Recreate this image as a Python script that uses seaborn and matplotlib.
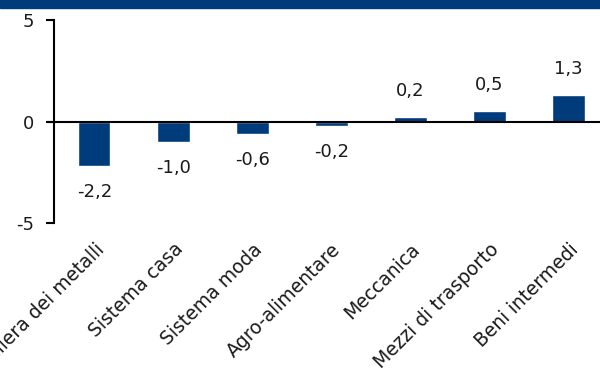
import seaborn as sns
import matplotlib.pyplot as plt
import pandas as pd

sns.set_theme(style="white")
plt.rcParams['font.family'] = ['DejaVu Sans']

# data
settori = ["Filiera dei metalli", "Sistema casa", "Sistema moda", "Agro-alimentare",
           "Meccanica", "Mezzi di trasporto", "Beni intermedi"]
valori = [-2.2, -1.0, -0.6, -0.2, 0.2, 0.5, 1.3]
etichette = ["-2,2", "-1,0", "-0,6", "-0,2", "0,2", "0,5", "1,3"]
y_ticks = [-5, 0, 5]

blu = "#003b7c"
df = pd.DataFrame({"settore": settori, "valore": valori})

f = plt.figure(figsize=(6, 3.71), dpi=100)
ax = f.add_axes([0.09, 0.399, 0.91, 0.547])

# dark band at the top of the figure
f.patches.append(plt.Rectangle((0, 0.978), 1, 0.022, transform=f.transFigure,
                               color=blu, zorder=0))

sns.barplot(data=df, x="settore", y="valore", color=blu, width=0.41,
            saturation=1, ax=ax)

for i, (v, t) in enumerate(zip(valori, etichette)):
    off = 0.85 if v >= 0 else -0.85
    ax.text(i, v + off, t, ha="center", va="bottom" if v >= 0 else "top",
            fontsize=13, color="#1a1a1a")

ax.set_ylim(-5, 5)
ax.set_xlim(-0.51, 6.4)
ax.set_yticks(y_ticks)
ax.set_yticklabels([str(t) for t in y_ticks], fontsize=13, color="#1a1a1a")
ax.axhline(0, xmin=-0.012, xmax=1, color="black", lw=1.5, clip_on=False, zorder=3)

ax.tick_params(axis="y", length=6, width=1.5, color="black", direction="out",
               left=True, pad=8)
ax.tick_params(axis="x", length=0, pad=12)
ax.set_xticks(range(len(settori)))
ax.set_xticklabels(settori, rotation=45, ha="right", rotation_mode="anchor",
                   fontsize=13.5, color="#1a1a1a")
ax.set_xlabel("")
ax.set_ylabel("")

for s in ["top", "right", "bottom"]:
    ax.spines[s].set_visible(False)
ax.spines["left"].set_color("black")
ax.spines["left"].set_linewidth(1.5)

f.savefig("out.png", dpi=100)
